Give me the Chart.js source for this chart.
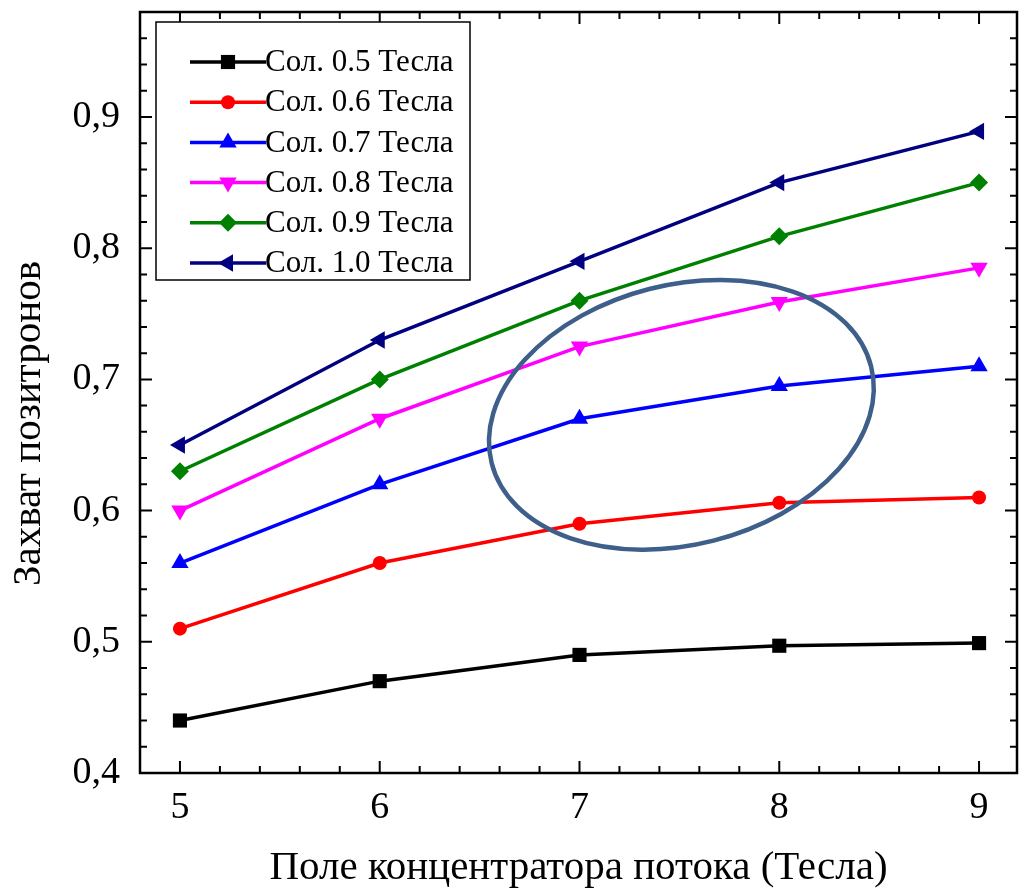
<html lang="ru">
<head>
  <meta charset="UTF-8" />
  <title>Захват позитронов</title>
  <script src="https://cdn.jsdelivr.net/npm/chart.js"></script>
  <style>
    html, body { margin: 0; padding: 0; background: #fff; overflow: hidden; }
    #wrap { width: 1020px; height: 893px; overflow: hidden; }
  </style>
</head>
<body>
  <div id="wrap"><canvas id="chart" width="1027" height="893"></canvas></div>

  <script>
    // field of the flux concentrator, Tesla
    const fieldX = [5, 6, 7, 8, 9];

    const labels = ['Сол. 0.5 Тесла', 'Сол. 0.6 Тесла', 'Сол. 0.7 Тесла',
                    'Сол. 0.8 Тесла', 'Сол. 0.9 Тесла', 'Сол. 1.0 Тесла'];

    const sol05 = [0.44, 0.47, 0.49, 0.497, 0.499];
    const sol06 = [0.51, 0.56, 0.59, 0.606, 0.61];
    const sol07 = [0.56, 0.62, 0.67, 0.695, 0.71];
    const sol08 = [0.60, 0.67, 0.725, 0.759, 0.785];
    const sol09 = [0.63, 0.70, 0.76, 0.809, 0.85];
    const sol10 = [0.65, 0.73, 0.79, 0.85, 0.889];

    const xTicks = [5, 6, 7, 8, 9];
    const yTicks = [0.4, 0.5, 0.6, 0.7, 0.8, 0.9];

    const yTitle = 'Захват позитронов';
    const xTitle = 'Поле концентратора потока (Тесла)';

    // highlighted region (data units, radii in data units)
    const ellipse = { x: 7.51, y: 0.673, rx: 0.98, ry: 0.099, angle: -0.25 };

    const serif = "'Liberation Serif', 'DejaVu Serif', 'Times New Roman', serif";

    const styles = [
      { color: '#000000', point: 'rect', rot: 0, r: 10 },
      { color: '#ff0000', point: 'circle', rot: 0, r: 7 },
      { color: '#0000ff', point: 'triangle', rot: 0, r: 10 },
      { color: '#ff00ff', point: 'triangle', rot: 180, r: 10 },
      { color: '#008000', point: 'rectRot', rot: 0, r: 9 },
      { color: '#000080', point: 'triangle', rot: -90, r: 10 },
    ];

    const series = [sol05, sol06, sol07, sol08, sol09, sol10];

    const datasets = series.map((vals, i) => ({
      label: labels[i],
      data: vals.map((v, j) => ({ x: fieldX[j], y: v })),
      borderColor: styles[i].color,
      backgroundColor: styles[i].color,
      borderWidth: 3.5,
      pointStyle: styles[i].point,
      rotation: styles[i].rot,
      pointRadius: styles[i].r,
      pointBorderWidth: 0,
      tension: 0,
    }));

    // frame + inward ticks on all four sides
    const frameTicks = {
      id: 'frameTicks',
      afterDatasetsDraw(chart) {
        const { ctx, chartArea: a, scales } = chart;
        const xs = scales.x, ys = scales.y;
        ctx.save();
        ctx.strokeStyle = '#000';
        ctx.lineWidth = 2;
        ctx.beginPath();
        for (let v = 5; v <= 9.001; v += 0.2) {
          const px = xs.getPixelForValue(v);
          const major = Math.abs(v - Math.round(v)) < 1e-6;
          const len = major ? 12 : 7;
          ctx.moveTo(px, a.bottom); ctx.lineTo(px, a.bottom - len);
          ctx.moveTo(px, a.top); ctx.lineTo(px, a.top + len);
        }
        for (let v = 0.4; v <= 0.98; v += 0.02) {
          const py = ys.getPixelForValue(v);
          const major = Math.abs(v * 10 - Math.round(v * 10)) < 1e-6;
          const len = major ? 12 : 7;
          ctx.moveTo(a.left, py); ctx.lineTo(a.left + len, py);
          ctx.moveTo(a.right, py); ctx.lineTo(a.right - len, py);
        }
        ctx.stroke();
        ctx.lineWidth = 2.5;
        ctx.strokeRect(a.left, a.top, a.right - a.left, a.bottom - a.top);
        ctx.restore();
      }
    };

    const ellipsePlugin = {
      id: 'ellipse',
      afterDatasetsDraw(chart) {
        const { ctx, scales } = chart;
        const cx = scales.x.getPixelForValue(ellipse.x);
        const cy = scales.y.getPixelForValue(ellipse.y);
        const rx = Math.abs(scales.x.getPixelForValue(ellipse.x + ellipse.rx) - cx);
        const ry = Math.abs(scales.y.getPixelForValue(ellipse.y + ellipse.ry) - cy);
        ctx.save();
        ctx.strokeStyle = '#3e5f8a';
        ctx.lineWidth = 4.5;
        ctx.beginPath();
        ctx.ellipse(cx, cy, rx, ry, ellipse.angle, 0, Math.PI * 2);
        ctx.stroke();
        ctx.restore();
      }
    };

    // y title sits a bit below the middle in the original
    const yTitlePlugin = {
      id: 'yTitle',
      afterDraw(chart) {
        const { ctx, chartArea: a } = chart;
        ctx.save();
        ctx.translate(29, (a.top + a.bottom) / 2 + 31);
        ctx.rotate(-Math.PI / 2);
        ctx.font = '41px ' + serif;
        ctx.fillStyle = '#000';
        ctx.textAlign = 'center';
        ctx.textBaseline = 'middle';
        ctx.fillText(yTitle, 0, 0);
        ctx.restore();
      }
    };

    // legend box drawn like the original (line through the marker)
    const boxLegend = {
      id: 'boxLegend',
      afterDraw(chart) {
        const { ctx, chartArea: a } = chart;
        const left = a.left + 16, top = a.top + 10, w = 314, h = 258;
        ctx.save();
        ctx.fillStyle = '#fff';
        ctx.fillRect(left, top, w, h);
        ctx.strokeStyle = '#000';
        ctx.lineWidth = 1.5;
        ctx.strokeRect(left, top, w, h);
        ctx.font = '31px ' + serif;
        ctx.textBaseline = 'middle';
        chart.data.datasets.forEach((ds, i) => {
          const y = top + 40 + i * 40.2;
          ctx.strokeStyle = ds.borderColor;
          ctx.fillStyle = ds.borderColor;
          ctx.lineWidth = 3.5;
          ctx.beginPath();
          ctx.moveTo(left + 34, y);
          ctx.lineTo(left + 110, y);
          ctx.stroke();
          Chart.helpers.drawPoint(ctx, {
            pointStyle: ds.pointStyle, radius: ds.pointRadius,
            rotation: ds.rotation, borderWidth: 0
          }, left + 72, y);
          ctx.fillStyle = '#000';
          ctx.fillText(ds.label, left + 109, y + 1);
        });
        ctx.restore();
      }
    };

    new Chart(document.getElementById('chart'), {
      type: 'line',
      data: { datasets },
      plugins: [frameTicks, ellipsePlugin, boxLegend, yTitlePlugin],
      options: {
        responsive: false,
        animation: false,
        layout: { padding: { top: 12, right: 0, left: 0, bottom: 0 } },
        plugins: { legend: { display: false }, tooltip: { enabled: false } },
        scales: {
          x: {
            type: 'linear',
            min: 4.8, max: 9.19,
            afterBuildTicks: s => { s.ticks = xTicks.map(v => ({ value: v })); },
            afterFit: s => { s.height = 120; s.paddingLeft = 0; s.paddingRight = 0; },
            grid: { display: false, drawTicks: false },
            border: { display: false },
            ticks: { color: '#000', padding: 12, font: { family: serif, size: 38 } },
            title: {
              display: true, text: xTitle, color: '#000',
              font: { family: serif, size: 41 }, padding: { top: 0, bottom: 0 }
            }
          },
          y: {
            type: 'linear',
            min: 0.4, max: 0.98,
            afterBuildTicks: s => { s.ticks = yTicks.map(v => ({ value: v })); },
            afterFit: s => { s.width = 140; s.paddingTop = 0; s.paddingBottom = 0; },
            grid: { display: false, drawTicks: false },
            border: { display: false },
            ticks: {
              color: '#000', padding: 20, font: { family: serif, size: 38 },
              callback: v => v.toFixed(1).replace('.', ',')
            },
            title: { display: false }
          }
        }
      }
    });
  </script>
</body>
</html>
